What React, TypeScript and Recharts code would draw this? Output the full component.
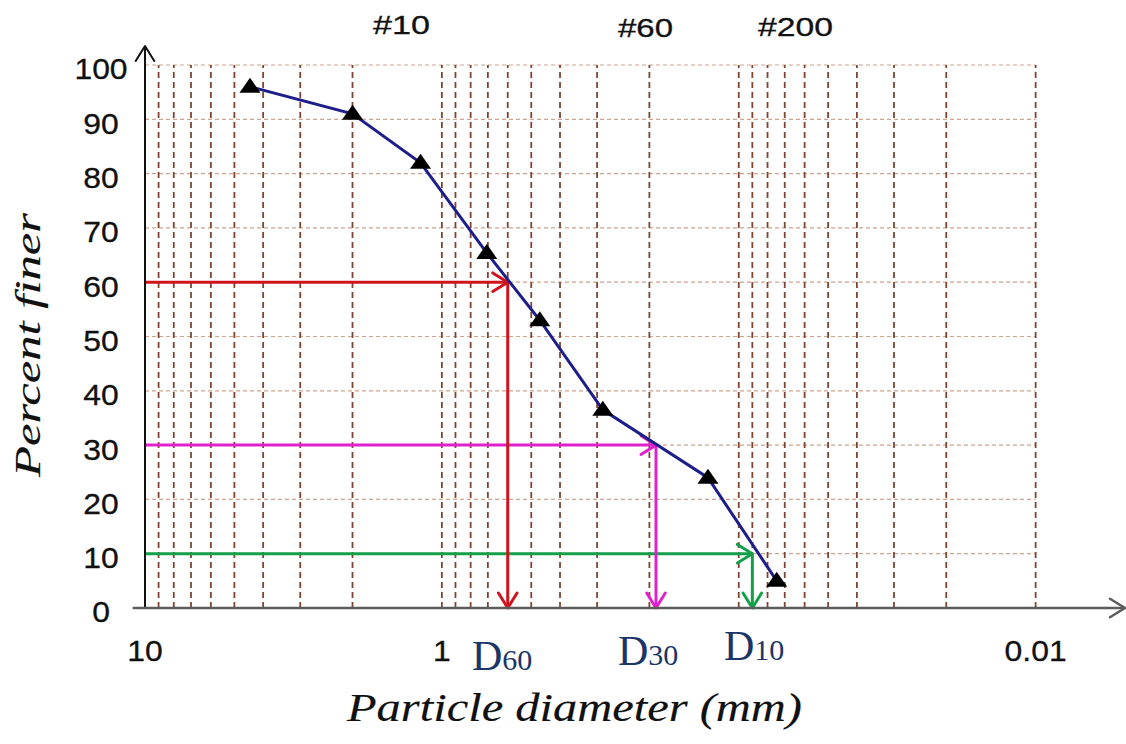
import React from "react";
import { LineChart, Line, XAxis, YAxis, ReferenceLine } from "recharts";

// grain size curve
const diameters = [4.43, 2.0, 1.18, 0.706, 0.468, 0.287, 0.127, 0.0745];
const percentFiner = [96, 91, 82, 65.4, 53, 36.5, 24, 5];

const xTicks = [10, 1, 0.01];
const yTicks = [0, 10, 20, 30, 40, 50, 60, 70, 80, 90, 100];

const gridX = [
  10, 9, 8, 7, 6, 5, 4, 3, 2,
  1, 0.9, 0.8, 0.7, 0.6, 0.5, 0.4, 0.3, 0.2,
  0.1, 0.09, 0.08, 0.07, 0.06, 0.05, 0.04, 0.03, 0.02,
  0.01,
];
const gridY = [10, 20, 30, 40, 50, 60, 70, 80, 90, 100];

const dNames = ["60", "30", "10"];
const dPercents = [60, 30, 10];
const dSizes = [0.6, 0.19, 0.09];
const dColors = ["#d0141c", "#e020cc", "#14a04a"];

const sieveLabels = ["#10", "#60", "#200"];

const data = diameters.map((d, i) => ({ d, p: percentFiner[i] }));

function arrowShape(color: string, width: number, head: number) {
  return (props: any) => {
    const { x1, y1, x2, y2 } = props;
    const ang = Math.atan2(y2 - y1, x2 - x1);
    const dx = Math.cos(ang);
    const dy = Math.sin(ang);
    const hw = head * 0.62;
    const bx = x2 - head * dx;
    const by = y2 - head * dy;
    const p1 = `${bx - hw * dy},${by + hw * dx}`;
    const p2 = `${bx + hw * dy},${by - hw * dx}`;
    return (
      <g>
        <line x1={x1} y1={y1} x2={x2} y2={y2} stroke={color} strokeWidth={width} />
        <polyline
          points={`${p1} ${x2},${y2} ${p2}`}
          fill="none"
          stroke={color}
          strokeWidth={width}
          strokeLinecap="round"
          strokeLinejoin="round"
        />
      </g>
    );
  };
}

const Triangle = (props: any) => {
  const { cx, cy, index } = props;
  return (
    <path
      key={`tri-${index}`}
      d={`M${cx},${cy - 9} L${cx + 10.5},${cy + 6} L${cx - 10.5},${cy + 6} Z`}
      fill="#000"
    />
  );
};

const YTick = (props: any) => {
  const { y, payload } = props;
  return (
    <text
      transform={`translate(101 ${y + 4}) scale(1.1 1)`}
      textAnchor="middle"
      dy="0.36em"
      fontSize={29}
      fontFamily="Liberation Sans, Arial, sans-serif"
      fill="#111"
      stroke="#111"
      strokeWidth={0.3}
    >
      {payload.value}
    </text>
  );
};

const XTick = (props: any) => {
  const { x, payload } = props;
  return (
    <text
      transform={`translate(${x} 661) scale(1.1 1)`}
      textAnchor="middle"
      fontSize={29}
      fontFamily="Liberation Sans, Arial, sans-serif"
      fill="#111"
      stroke="#111"
      strokeWidth={0.3}
    >
      {String(payload.value)}
    </text>
  );
};

export default function App() {
  return (
    <div style={{ position: "absolute", left: 0, top: 0, width: 1126, height: 744, background: "#fff" }}>
      <LineChart
        width={1126}
        height={744}
        data={data}
        margin={{ top: 46, right: 1, left: 0, bottom: 0 }}
      >
        <XAxis
          dataKey="d"
          type="number"
          scale="log"
          domain={[0.005, 10]}
          allowDataOverflow
          reversed
          ticks={xTicks}
          tick={<XTick />}
          tickLine={false}
          axisLine={false}
          height={136}
          interval={0}
        />
        <YAxis
          type="number"
          domain={[0, 103.5]}
          allowDataOverflow
          ticks={yTicks}
          tick={<YTick />}
          tickLine={false}
          axisLine={false}
          width={145}
          interval={0}
        />

        {gridY.map((v) => (
          <ReferenceLine
            key={`gy-${v}`}
            segment={[{ x: 10, y: v }, { x: 0.01, y: v }]}
            stroke="#cfa48e"
            strokeWidth={1.2}
            strokeDasharray="4 3"
            ifOverflow="visible"
          />
        ))}
        {gridX.map((v) => (
          <ReferenceLine
            key={`gx-${v}`}
            segment={[{ x: v, y: 0 }, { x: v, y: 100 }]}
            stroke="#7e4632"
            strokeWidth={1.8}
            strokeDasharray="6 4"
            ifOverflow="visible"
          />
        ))}

        {dSizes.map((s, i) => (
          <ReferenceLine
            key={`dh-${i}`}
            segment={[{ x: 10, y: dPercents[i] }, { x: s, y: dPercents[i] }]}
            ifOverflow="visible"
            shape={arrowShape(dColors[i], 3, 15)}
          />
        ))}
        {dSizes.map((s, i) => (
          <ReferenceLine
            key={`dv-${i}`}
            segment={[{ x: s, y: dPercents[i] }, { x: s, y: 0 }]}
            ifOverflow="visible"
            shape={arrowShape(dColors[i], 3, 15)}
          />
        ))}

        {/* axes with arrow heads */}
        <ReferenceLine
          segment={[{ x: 10, y: 0 }, { x: 10, y: 103.5 }]}
          ifOverflow="visible"
          shape={arrowShape("#111", 2, 15)}
        />
        <ReferenceLine
          segment={[{ x: 11, y: 0 }, { x: 0.005, y: 0 }]}
          ifOverflow="visible"
          shape={arrowShape("#5c5c5c", 2.5, 15)}
        />

        <Line
          dataKey="p"
          type="linear"
          stroke="#1e1e8a"
          strokeWidth={3}
          dot={Triangle}
          activeDot={false}
          isAnimationActive={false}
        />
      </LineChart>

      <svg
        width={1126}
        height={744}
        style={{ position: "absolute", left: 0, top: 0, pointerEvents: "none" }}
      >
        <g fontFamily="Liberation Sans, Arial, sans-serif" fontSize={25} fill="#111" stroke="#111" strokeWidth={0.3}>
          <text x={373} y={34} textLength={57} lengthAdjust="spacingAndGlyphs">{sieveLabels[0]}</text>
          <text x={618} y={37} textLength={55} lengthAdjust="spacingAndGlyphs">{sieveLabels[1]}</text>
          <text x={758} y={36} textLength={75} lengthAdjust="spacingAndGlyphs">{sieveLabels[2]}</text>
        </g>

        <g fontFamily="Liberation Serif, Times New Roman, serif" fill="#1b3566">
          <text x={472} y={670}>
            <tspan fontSize={42}>D</tspan>
            <tspan fontSize={30}>{dNames[0]}</tspan>
          </text>
          <text x={618} y={665}>
            <tspan fontSize={42}>D</tspan>
            <tspan fontSize={30}>{dNames[1]}</tspan>
          </text>
          <text x={724} y={660}>
            <tspan fontSize={42}>D</tspan>
            <tspan fontSize={30}>{dNames[2]}</tspan>
          </text>
        </g>

        <text
          x={347}
          y={721}
          fontFamily="Liberation Serif, Times New Roman, serif"
          fontStyle="italic"
          fontSize={39}
          fill="#111"
          stroke="#111"
          strokeWidth={0.15}
          textLength={455}
          lengthAdjust="spacingAndGlyphs"
        >
          Particle diameter (mm)
        </text>
        <text
          transform="translate(40 345) rotate(-90)"
          textAnchor="middle"
          fontFamily="Liberation Serif, Times New Roman, serif"
          fontStyle="italic"
          fontSize={35}
          fill="#111"
          stroke="#111"
          strokeWidth={0.15}
          textLength={264}
          lengthAdjust="spacingAndGlyphs"
        >
          Percent finer
        </text>
      </svg>
    </div>
  );
}
